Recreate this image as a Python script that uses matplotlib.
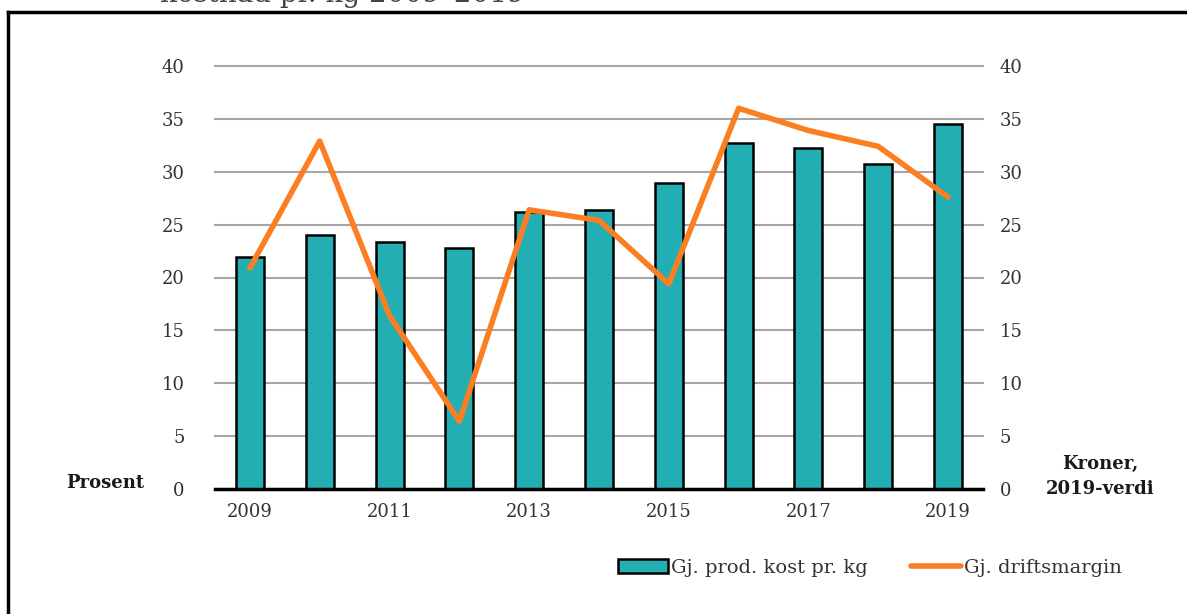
import matplotlib.pyplot as plt
import numpy as np
from matplotlib.lines import Line2D
from matplotlib.patches import Rectangle

years = [2009, 2010, 2011, 2012, 2013, 2014, 2015, 2016, 2017, 2018, 2019]
prod_kost = [21.9, 24.0, 23.4, 22.8, 26.2, 26.4, 28.9, 32.7, 32.2, 30.7, 34.5]
driftsmargin = [20.9, 32.9, 16.4, 6.4, 26.4, 25.4, 19.4, 36.0, 33.9, 32.4, 27.6]
yticks = [0, 5, 10, 15, 20, 25, 30, 35, 40]

TEAL = "#23AEB3"
ORANGE = "#FC7E23"
GRID = "#A6A6A6"
FONT = "DejaVu Serif"

plt.rcParams["font.family"] = FONT

fig = plt.figure(figsize=(11.87, 6.14), dpi=100)

# frame around the chart (left + top edge visible)
fig.add_artist(Line2D([8 / 1187, 8 / 1187], [0, 1 - 12 / 614], color="black", lw=2.5,
                      transform=fig.transFigure))
fig.add_artist(Line2D([8 / 1187, 1], [1 - 12 / 614, 1 - 12 / 614], color="black", lw=2.5,
                      transform=fig.transFigure))
# title, cut off at the top like in the source
fig.text(160 / 1187, 1 - 2 / 614, "kostnad pr. kg 2009\u20132019", fontsize=20,
         color="#444444", ha="left", va="baseline")

ax = fig.add_axes([215 / 1187, 1 - 489 / 614, (983 - 215) / 1187, (489 - 66) / 614])
ax2 = ax.twinx()

x = np.arange(len(years))

# bars on right axis (kroner), line on left axis (prosent)
ax2.bar(x, prod_kost, width=0.4, color=TEAL, edgecolor="black", linewidth=1.8, zorder=3)
ax2.set_axisbelow(True)
ax2.yaxis.grid(True, color=GRID, linewidth=1.5)

ax.plot(x, driftsmargin, color=ORANGE, linewidth=4.0, solid_joinstyle="round",
        solid_capstyle="round", zorder=4)
ax.set_zorder(ax2.get_zorder() + 1)
ax.patch.set_visible(False)

for a in (ax, ax2):
    a.set_ylim(0, 40)
    a.set_yticks(yticks)
    a.set_xlim(-0.5, len(years) - 0.5)
    for s in a.spines.values():
        s.set_visible(False)
    a.tick_params(axis="both", length=0, labelsize=13, labelcolor="#333333")

for gl in ax2.get_ygridlines():
    gl.set_clip_on(False)

ax.tick_params(axis="y", pad=22)
ax2.tick_params(axis="y", pad=12)
ax.spines["bottom"].set_visible(True)
ax.spines["bottom"].set_linewidth(2.5)
ax.spines["bottom"].set_color("black")

ax.set_xticks(x[::2])
ax.set_xticklabels([str(y) for y in years[::2]])
ax.tick_params(axis="x", pad=10)

fig.text(105 / 1187, 1 - 483 / 614, "Prosent", fontsize=13, fontweight="bold",
         ha="center", va="center", color="#1a1a1a")
fig.text(1100 / 1187, 1 - 476 / 614, "Kroner,\n2019-verdi", fontsize=13, fontweight="bold",
         ha="center", va="center", color="#1a1a1a", linespacing=1.5)

handles = [
    Rectangle((0, 0), 1, 1, facecolor=TEAL, edgecolor="black", linewidth=1.8),
    Line2D([0], [0], color=ORANGE, linewidth=4.0, solid_capstyle="round"),
]
labels = ["Gj. prod. kost pr. kg", "Gj. driftsmargin"]
fig.legend(handles, labels, loc="center", bbox_to_anchor=(870 / 1187, 1 - 568 / 614),
           ncol=2, frameon=False, fontsize=14, handlelength=2.6, handletextpad=0.15,
           columnspacing=2.2, labelcolor="#333333")

fig.savefig("out.png", dpi=100)
